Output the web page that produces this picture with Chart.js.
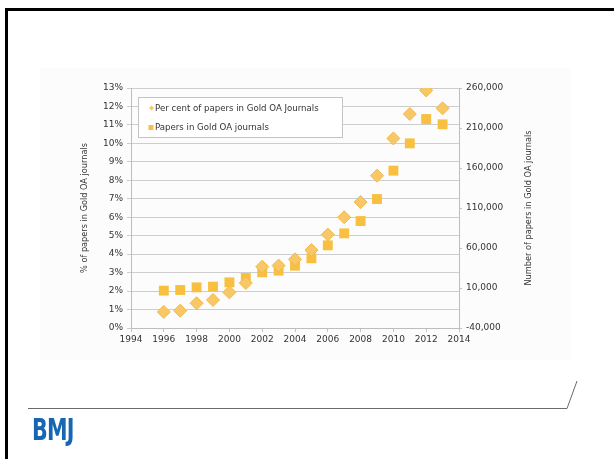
<!DOCTYPE html>
<html>
<head>
<meta charset="utf-8">
<script src="https://cdn.jsdelivr.net/npm/chart.js@4/dist/chart.umd.min.js"></script>
<style>
  html, body { margin: 0; padding: 0; background: #fff; }
  body { width: 614px; height: 459px; position: relative; overflow: hidden; }
  #frame { position: absolute; left: 5px; top: 8px; width: 700px; height: 600px;
           border-top: 3px solid #000; border-left: 3px solid #000; }
  #shade { position: absolute; left: 40px; top: 68px; width: 530px; height: 292px; background: #fcfcfc; }
  #chart { position: absolute; left: 0; top: 0; }
  #rule { position: absolute; left: 0; top: 0; }
  #logo { position: absolute; left: 32px; top: 411px; font-family: "DejaVu Sans Condensed", "DejaVu Sans", sans-serif;
          font-weight: bold; font-size: 31px; color: #1766b2; letter-spacing: -1px;
          transform: scaleX(0.74); transform-origin: left top; }
</style>
</head>
<body>
<div id="frame"></div>
<div id="shade"></div>
<canvas id="chart" width="614" height="459"></canvas>
<svg id="rule" width="614" height="459">
  <polyline points="28,408.5 567,408.5 577,381" fill="none" stroke="#6a6a6a" stroke-width="1"/>
</svg>
<div id="logo">BMJ</div>
<script>
// values
const years = [1996, 1997, 1998, 1999, 2000, 2001, 2002, 2003, 2004, 2005, 2006, 2007, 2008, 2009, 2010, 2011, 2012, 2013];
const percentGold = [0.87, 0.94, 1.34, 1.52, 1.93, 2.44, 3.32, 3.38, 3.72, 4.22, 5.06, 6.0, 6.82, 8.25, 10.27, 11.59, 12.87, 11.9];
const papersGold = [6700, 7500, 10800, 11700, 17100, 22500, 29600, 31700, 37900, 47100, 63300, 78300, 93700, 121200, 156700, 190800, 221200, 214600];
const seriesNames = ['Per cent of papers in Gold OA Journals', 'Papers in Gold OA journals'];
const leftTitle = '% of papers in Gold OA journals';
const rightTitle = 'Number of papers in Gold OA journals';

const textColor = '#333';
const gridColor = '#cdcdcd';
const diamondFill = '#f8c766';
const diamondEdge = '#f2b847';
const squareFill = '#f9bf40';

function toPoints(vals) {
  return years.map((yr, i) => ({ x: yr, y: vals[i] }));
}

// draws the boxed legend inside the plot and the two rotated axis titles
const decorations = {
  id: 'decorations',
  afterDraw(chart) {
    const ctx = chart.ctx;
    const area = chart.chartArea;
    ctx.save();

    // legend box
    const bx = 138.5, by = 97.5, bw = 204, bh = 40;
    ctx.fillStyle = '#fff';
    ctx.fillRect(bx, by, bw, bh);
    ctx.strokeStyle = '#c4c4c4';
    ctx.lineWidth = 1;
    ctx.strokeRect(bx, by, bw, bh);

    ctx.font = '8.6px "DejaVu Sans"';
    ctx.textBaseline = 'middle';
    ctx.textAlign = 'left';

    // diamond marker
    ctx.fillStyle = diamondFill;
    ctx.beginPath();
    ctx.moveTo(151.5, 105.5); ctx.lineTo(154, 108); ctx.lineTo(151.5, 110.5); ctx.lineTo(149, 108);
    ctx.closePath(); ctx.fill();
    // square marker
    ctx.fillStyle = squareFill;
    ctx.fillRect(148.5, 125, 5, 5);

    ctx.fillStyle = textColor;
    ctx.fillText(seriesNames[0], 155, 108.5);
    ctx.fillText(seriesNames[1], 155, 128);

    // axis titles, both reading bottom to top
    const midY = (area.top + area.bottom) / 2;
    ctx.font = '8.2px "DejaVu Sans"';
    ctx.textAlign = 'center';
    ctx.save();
    ctx.translate(85, midY);
    ctx.rotate(-Math.PI / 2);
    ctx.fillText(leftTitle, 0, 0);
    ctx.restore();
    ctx.save();
    ctx.translate(529, midY);
    ctx.rotate(-Math.PI / 2);
    ctx.fillText(rightTitle, 0, 0);
    ctx.restore();

    ctx.restore();
  }
};

new Chart(document.getElementById('chart'), {
  type: 'scatter',
  data: {
    datasets: [{
      label: seriesNames[1],
      data: toPoints(papersGold),
      yAxisID: 'y2',
      pointStyle: 'rect',
      pointRadius: 7,
      backgroundColor: squareFill,
      borderColor: squareFill,
      borderWidth: 0,
      order: 2
    }, {
      label: seriesNames[0],
      data: toPoints(percentGold),
      yAxisID: 'y',
      pointStyle: 'rectRot',
      pointRadius: 6.5,
      backgroundColor: diamondFill,
      borderColor: diamondEdge,
      borderWidth: 1,
      order: 1
    }]
  },
  options: {
    responsive: false,
    animation: false,
    devicePixelRatio: 1,
    layout: { padding: { left: 75, right: 75, top: 88, bottom: 109 } },
    plugins: { legend: { display: false }, tooltip: { enabled: false } },
    scales: {
      x: {
        type: 'linear',
        min: 1994,
        max: 2014,
        afterFit: s => { s.height = 22; },
        grid: { drawOnChartArea: false, drawTicks: true, tickLength: 4, color: '#c4c4c4' },
        border: { color: '#bdbdbd' },
        ticks: { stepSize: 2, padding: 2, color: textColor, font: { family: 'DejaVu Sans', size: 9 },
                 callback: v => String(v) }
      },
      y: {
        position: 'left',
        min: 0,
        max: 13,
        afterFit: s => { s.width = 56; },
        grid: { color: gridColor, tickLength: 4 },
        border: { color: '#bdbdbd' },
        ticks: { stepSize: 1, padding: 4, color: textColor, font: { family: 'DejaVu Sans', size: 9 },
                 callback: v => v + '%' }
      },
      y2: {
        position: 'right',
        min: -40000,
        max: 260000,
        afterFit: s => { s.width = 80; },
        grid: { drawOnChartArea: false, tickLength: 3, color: '#c4c4c4' },
        border: { color: '#bdbdbd' },
        ticks: { stepSize: 50000, padding: 4, color: textColor, font: { family: 'DejaVu Sans', size: 9 },
                 callback: v => v.toLocaleString('en-US') }
      }
    }
  },
  plugins: [decorations]
});
</script>
</body>
</html>
